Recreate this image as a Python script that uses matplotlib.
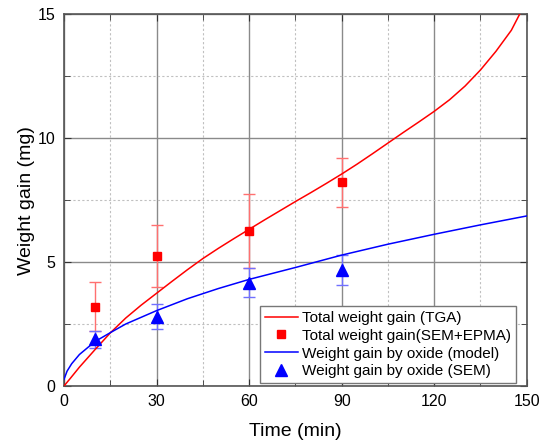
import numpy as np
import matplotlib
matplotlib.use('Agg')
import matplotlib.pyplot as plt
from matplotlib.lines import Line2D
from matplotlib.ticker import MultipleLocator

plt.rcParams['font.family'] = ['Liberation Sans', 'DejaVu Sans']

# TGA total weight gain curve
t_tga = [0, 2, 5, 10, 15, 20, 25, 30, 35, 40, 45, 50, 55, 60, 65, 70, 75, 80,
         85, 90, 95, 100, 105, 110, 115, 120, 125, 130, 135, 140, 145, 147.7]
w_tga = [0, 0.3, 0.76, 1.46, 2.14, 2.74, 3.26, 3.74, 4.22, 4.69, 5.14, 5.55,
         5.94, 6.32, 6.7, 7.07, 7.44, 7.8, 8.17, 8.55, 8.95, 9.37, 9.8, 10.23,
         10.65, 11.08, 11.55, 12.1, 12.75, 13.5, 14.35, 15.0]

# oxide model curve
t_mod = [0, 1, 2.5, 5, 10, 15, 20, 30, 40, 50, 60, 75, 90, 105, 120, 135, 150]
w_mod = [0.27, 0.6, 0.9, 1.27, 1.79, 2.15, 2.5, 3.04, 3.52, 3.93, 4.3, 4.78,
         5.28, 5.72, 6.12, 6.5, 6.86]

# measured points
t_pts = [10, 30, 60, 90]
w_tot = [3.2, 5.25, 6.26, 8.21]
e_tot = [1.0, 1.25, 1.5, 0.97]
w_ox = [1.88, 2.8, 4.17, 4.68]
e_ox = [0.35, 0.5, 0.6, 0.62]

fig = plt.figure(figsize=(5.47, 4.43), dpi=100)
ax = fig.add_axes([0.117, 0.1287, 0.846, 0.8393])

ax.set_xlim(0, 150)
ax.set_ylim(0, 15)
ax.xaxis.set_major_locator(MultipleLocator(30))
ax.xaxis.set_minor_locator(MultipleLocator(15))
ax.yaxis.set_major_locator(MultipleLocator(5))
ax.yaxis.set_minor_locator(MultipleLocator(2.5))

ax.grid(which='major', color='#8a8a8a', lw=1.0, ls='-', zorder=0)
ax.grid(which='minor', color='#c0c0c0', lw=0.8, ls=(0, (2, 2)), zorder=0)
ax.set_axisbelow(True)

ax.tick_params(which='both', direction='in', top=True, right=True,
               labelsize=11.5, color='#333333', pad=6)
ax.tick_params(which='major', length=5)
ax.tick_params(which='minor', length=4)
for s in ax.spines.values():
    s.set_color('#555555')
    s.set_linewidth(1.2)

ax.errorbar(t_pts, w_tot, yerr=e_tot, fmt='none', ecolor='#ff7070',
            elinewidth=1, capsize=4, zorder=3)
ax.errorbar(t_pts, w_ox, yerr=e_ox, fmt='none', ecolor='#7070ff',
            elinewidth=1, capsize=4, zorder=3)

ax.plot(t_tga, w_tga, color='#ff0000', lw=1.1, zorder=4)
ax.plot(t_mod, w_mod, color='#0000ff', lw=1.1, zorder=4)
ax.plot(t_pts, w_tot, 's', color='#ff0000', ms=6, zorder=5)
ax.plot(t_pts, w_ox, '^', color='#0000ff', ms=8, zorder=5)

ax.set_xlabel('Time (min)', fontsize=14, labelpad=10)
ax.set_ylabel('Weight gain (mg)', fontsize=14, labelpad=2)

handles = [
    Line2D([], [], color='#ff0000', lw=1.1),
    Line2D([], [], ls='none', marker='s', color='#ff0000', ms=6),
    Line2D([], [], color='#0000ff', lw=1.1),
    Line2D([], [], ls='none', marker='^', color='#0000ff', ms=8),
]
labels = ['Total weight gain (TGA)', 'Total weight gain(SEM+EPMA)',
          'Weight gain by oxide (model)', 'Weight gain by oxide (SEM)']
leg = ax.legend(handles, labels, loc='lower right', bbox_to_anchor=(0.976, 0.008),
                fontsize=11, frameon=True, fancybox=False, framealpha=1,
                edgecolor='#777777', borderpad=0.3, labelspacing=0.25,
                handlelength=2.2, handletextpad=0.25, borderaxespad=0)
leg.get_frame().set_linewidth(1.0)
leg.set_zorder(10)

fig.savefig('out.png', dpi=100)
